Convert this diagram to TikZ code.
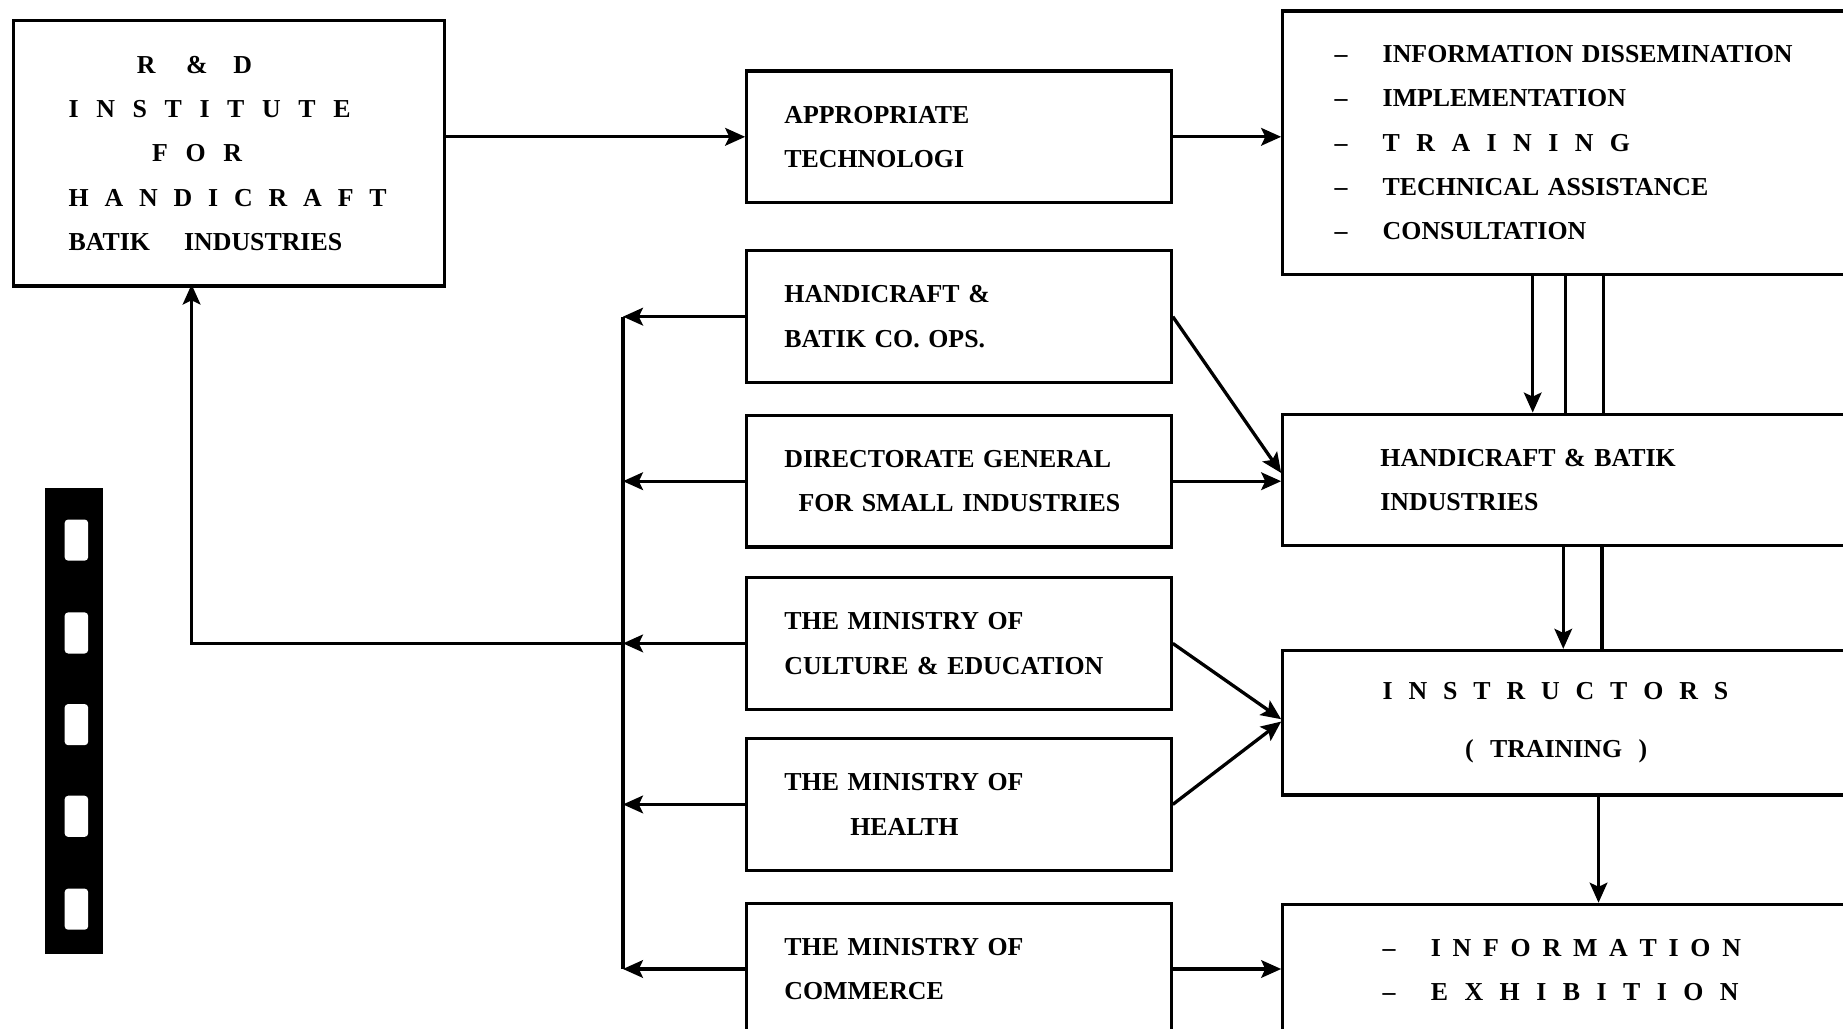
\documentclass[tikz,border=0pt]{standalone}
\usepackage{fontspec}
\setmainfont{Liberation Serif}
\usetikzlibrary{arrows.meta}

\newcommand\boxfont{\bfseries\fontsize{22pt}{37.75pt}\selectfont}
\newcommand\lsp[1]{\spaceskip=#1\relax}
\newcommand\dsh{--\hspace{30pt}}

\begin{document}
\begin{tikzpicture}[->,>={Stealth[length=17pt,width=15pt,inset=3.5pt]},
        x=1pt, y=-1pt, line width=2.8pt,
        box node/.style={draw,-,anchor=north west,align=left,inner ysep=0pt,
            font=\boxfont,minimum height=112pt},
        left node/.style={box node,minimum width=361pt,inner xsep=32pt,text width=297pt},
        right node/.style={box node,minimum width=520pt}]

    \useasboundingbox (0,0) rectangle (1568,875);
    \clip (0,0) rectangle (1568,875);

    % Nodes
    \node[box node,minimum width=367pt,minimum height=226pt,inner xsep=47pt,text width=273pt]
        (rnd) at (10,16) {\hspace*{58pt}R\hspace{26pt}\&\hspace{22pt}D\\
        \mbox{\lsp{15pt}I N S T I T U T E}\\
        \hspace*{71pt}\mbox{\lsp{15pt}F O R}\\
        \mbox{\lsp{13.5pt}H A N D I C R A F T}\\
        BATIK\hspace{29pt}INDUSTRIES};
    \node[left node] (apptech) at (634,59) {APPROPRIATE\\TECHNOLOGI};
    \node[left node] (coops) at (634,212) {HANDICRAFT \&\\BATIK CO. OPS.};
    \node[left node] (dirgen) at (634,352) {DIRECTORATE GENERAL\\\hspace*{12pt}FOR SMALL INDUSTRIES};
    \node[left node] (culture) at (634,490) {THE MINISTRY OF\\CULTURE \& EDUCATION};
    \node[left node] (health) at (634,627) {THE MINISTRY OF\\\hspace*{56pt}HEALTH};
    \node[left node] (commerce) at (634,767) {THE MINISTRY OF\\COMMERCE};

    \node[right node,minimum height=224pt,inner xsep=44pt,text width=432pt] (tasks) at (1090,8)
        {\dsh INFORMATION DISSEMINATION\\
        \dsh IMPLEMENTATION\\
        \dsh\mbox{\lsp{14pt}T R A I N I N G}\\
        \dsh TECHNICAL ASSISTANCE\\
        \dsh CONSULTATION};
    \node[right node,inner xsep=83pt,text width=354pt] (industries) at (1090,351)
        {HANDICRAFT \& BATIK\\INDUSTRIES};
    \node[right node,minimum height=123pt,inner xsep=85pt,text width=350pt] (instructors) at (1090,552)
        {\mbox{\lsp{13.5pt}I N S T R U C T O R S}\\[11pt]
        \hspace*{70pt}(\hspace{14pt}TRAINING\hspace{14pt})};
    \node[right node,inner xsep=85pt,text width=350pt] (infoexh) at (1090,768)
        {\dsh\mbox{\lsp{10pt}I N F O R M A T I O N}\\
        \dsh\mbox{\lsp{14pt}E X H I B I T I O N}};

    \coordinate (bus) at (530,0);
    \coordinate (rndin) at (163,242);

    % Edges
    \draw (rnd.east |- apptech.west) -- (apptech.west);
    \draw (apptech.east) -- (apptech.east -| tasks.west);

    \foreach \n in {coops,dirgen,culture,health,commerce}
        \draw (\n.west) -- (\n.west -| bus);
    \draw[-] (coops.west -| bus) -- (commerce.west -| bus);
    \draw (culture.west -| bus) -- (culture.west -| rndin) -- (rndin);

    \draw (coops.east) -- ([yshift=6pt]industries.west);
    \draw (dirgen.east) -- (dirgen.east -| industries.west);
    \draw (culture.east) -- ([yshift=3pt]instructors.west);
    \draw (health.east) -- ([yshift=1pt]instructors.west);
    \draw (commerce.east) -- (commerce.east -| infoexh.west);

    \draw ([xshift=214pt]tasks.south west) -- ([xshift=214pt]industries.north west);
    \draw[-] ([xshift=242pt]tasks.south west) -- ([xshift=242pt]industries.north west);
    \draw[-] ([xshift=274pt]tasks.south west) -- ([xshift=274pt]industries.north west);
    \draw ([xshift=240pt]industries.south west) -- ([xshift=240pt]instructors.north west);
    \draw[-] ([xshift=273pt]industries.south west) -- ([xshift=273pt]instructors.north west);
    \draw ([xshift=270pt]instructors.south west) -- ([xshift=270pt]infoexh.north west);

    % film strip
    \begin{scope}[-]
    \fill[black] (38,415) rectangle (88,812);
    \foreach \y in {442,521,599,677,756}
        \fill[white,rounded corners=3pt] (55,\y) rectangle (75,{\y+35});
    \end{scope}

\end{tikzpicture}
\end{document}
